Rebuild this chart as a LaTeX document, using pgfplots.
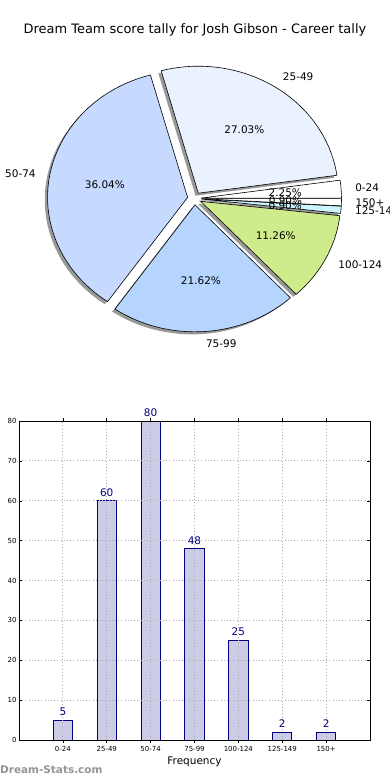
\documentclass[border=0pt]{standalone}
\usepackage{pgfplots}
\pgfplotsset{compat=1.18}
\usepackage{fontspec}
\setmainfont{DejaVu Sans}
\definecolor{w1}{HTML}{FFFFFF}
\definecolor{w2}{HTML}{EAF1FF}
\definecolor{w3}{HTML}{C6D9FF}
\definecolor{w4}{HTML}{B5D5FF}
\definecolor{w5}{HTML}{CFEB8B}
\definecolor{w6}{HTML}{CCF5FF}
\definecolor{w7}{HTML}{FFFFFF}
\definecolor{barfill}{HTML}{CCCCE6}
\definecolor{baredge}{HTML}{000080}
\newcommand\lblfont{\fontsize{10.5}{12}\selectfont}
\def\pielist{5/0-24/w1, 60/25-49/w2, 80/50-74/w3, 48/75-99/w4, 25/100-124/w5, 2/125-149/w6, 2/150+/w7}
\begin{document}
\begin{tikzpicture}
\useasboundingbox (0bp,0bp) rectangle (390bp,-780bp);
\node[font=\fontsize{13}{15}\selectfont] at (195bp,-30bp) {Dream Team score tally for Josh Gibson - Career tally};

\begin{axis}[at={(0bp,0bp)}, anchor=north west, hide axis, x=1bp, y=1bp,
  xmin=0, xmax=390, ymin=-390, ymax=0, clip=false]
\pgfplotsextra{
  \def\cx{194.5}\def\cy{-198.5}\def\rx{140}\def\ry{127}
  \gdef\tot{0}
  \foreach \v/\lab/\col in \pielist {\pgfmathparse{\tot+\v}\xdef\tot{\pgfmathresult}}
  % shadows
  \gdef\cum{0}
  \foreach \v/\lab/\col in \pielist {
    \pgfmathsetmacro\a{\cum/\tot*360}
    \pgfmathsetmacro\b{(\cum+\v)/\tot*360}
    \pgfmathsetmacro\m{(\a+\b)/2}
    \pgfmathsetmacro\ox{\cx+0.05*\rx*cos(\m)-0.02*\rx}
    \pgfmathsetmacro\oy{\cy+0.05*\ry*sin(\m)-0.02*\ry}
    \pgfmathsetmacro\sx{\ox+\rx*cos(\a)}
    \pgfmathsetmacro\sy{\oy+\ry*sin(\a)}
    \fill[black!40] (axis cs:\ox,\oy) -- (axis cs:\sx,\sy) arc[start angle=\a, end angle=\b, x radius=\rx bp, y radius=\ry bp] -- cycle;
    \pgfmathparse{\cum+\v}\xdef\cum{\pgfmathresult}
  }
  % wedges
  \gdef\cum{0}
  \foreach \v/\lab/\col in \pielist {
    \pgfmathsetmacro\a{\cum/\tot*360}
    \pgfmathsetmacro\b{(\cum+\v)/\tot*360}
    \pgfmathsetmacro\m{(\a+\b)/2}
    \pgfmathsetmacro\ox{\cx+0.05*\rx*cos(\m)}
    \pgfmathsetmacro\oy{\cy+0.05*\ry*sin(\m)}
    \pgfmathsetmacro\sx{\ox+\rx*cos(\a)}
    \pgfmathsetmacro\sy{\oy+\ry*sin(\a)}
    \filldraw[fill=\col, draw=black, line width=0.6bp, line join=round] (axis cs:\ox,\oy) -- (axis cs:\sx,\sy) arc[start angle=\a, end angle=\b, x radius=\rx bp, y radius=\ry bp] -- cycle;
    \pgfmathparse{\cum+\v}\xdef\cum{\pgfmathresult}
  }
  % texts
  \gdef\cum{0}
  \foreach \v/\lab/\col in \pielist {
    \pgfmathsetmacro\a{\cum/\tot*360}
    \pgfmathsetmacro\b{(\cum+\v)/\tot*360}
    \pgfmathsetmacro\m{(\a+\b)/2}
    \pgfmathsetmacro\cm{cos(\m)}
    \pgfmathsetmacro\lx{\cx+1.15*\rx*cos(\m)}
    \pgfmathsetmacro\ly{\cy+1.15*\ry*sin(\m)}
    \pgfmathsetmacro\px{\cx+0.65*\rx*cos(\m)}
    \pgfmathsetmacro\py{\cy+0.65*\ry*sin(\m)}
    \pgfmathsetmacro\pct{100*\v/\tot}
    \ifdim\cm pt>0pt \def\anc{west}\else\def\anc{east}\fi
    \node[anchor=\anc, inner sep=0pt, font=\lblfont] at (axis cs:\lx,\ly) {\lab};
    \node[inner sep=0pt, font=\lblfont] at (axis cs:\px,\py) {\pgfmathprintnumber[fixed,fixed zerofill,precision=2,assume math mode=true]{\pct}\%};
    \pgfmathparse{\cum+\v}\xdef\cum{\pgfmathresult}
  }
}
\end{axis}

\begin{axis}[at={(19bp,-421bp)}, anchor=north west, width=351bp, height=319bp, scale only axis,
  xmin=-1, xmax=7, ymin=0, ymax=80,
  xtick={0,...,6}, xticklabels={0-24,25-49,50-74,75-99,100-124,125-149,150+},
  ytick={0,10,...,80},
  grid=major, grid style={dash pattern=on 1bp off 2.2bp, black!32, line width=0.8bp},
  axis on top,
  tick style={black, line width=0.5bp}, major tick length=3bp, tick align=inside,
  tick label style={font=\fontsize{7}{8}\selectfont},
  /pgf/number format/assume math mode=true,
  xticklabel style={yshift=0bp},
  yticklabel style={xshift=1bp},
  xlabel={Frequency}, xlabel style={font=\lblfont, yshift=1.5bp},
  axis line style={line width=0.8bp},
  ybar, bar width=0.44, clip=false,
  nodes near coords, nodes near coords style={font=\lblfont, color=baredge, inner sep=2bp, yshift=2bp}]
\addplot[fill=barfill, draw=baredge, line width=0.8bp] coordinates {(0,5) (1,60) (2,80) (3,48) (4,25) (5,2) (6,2)};
\end{axis}

\node[anchor=west, inner sep=0pt, font=\bfseries\fontsize{10.5}{12}\selectfont, text=black!42] at (0bp,-770bp) {Dream-Stats.com};
\end{tikzpicture}
\end{document}
